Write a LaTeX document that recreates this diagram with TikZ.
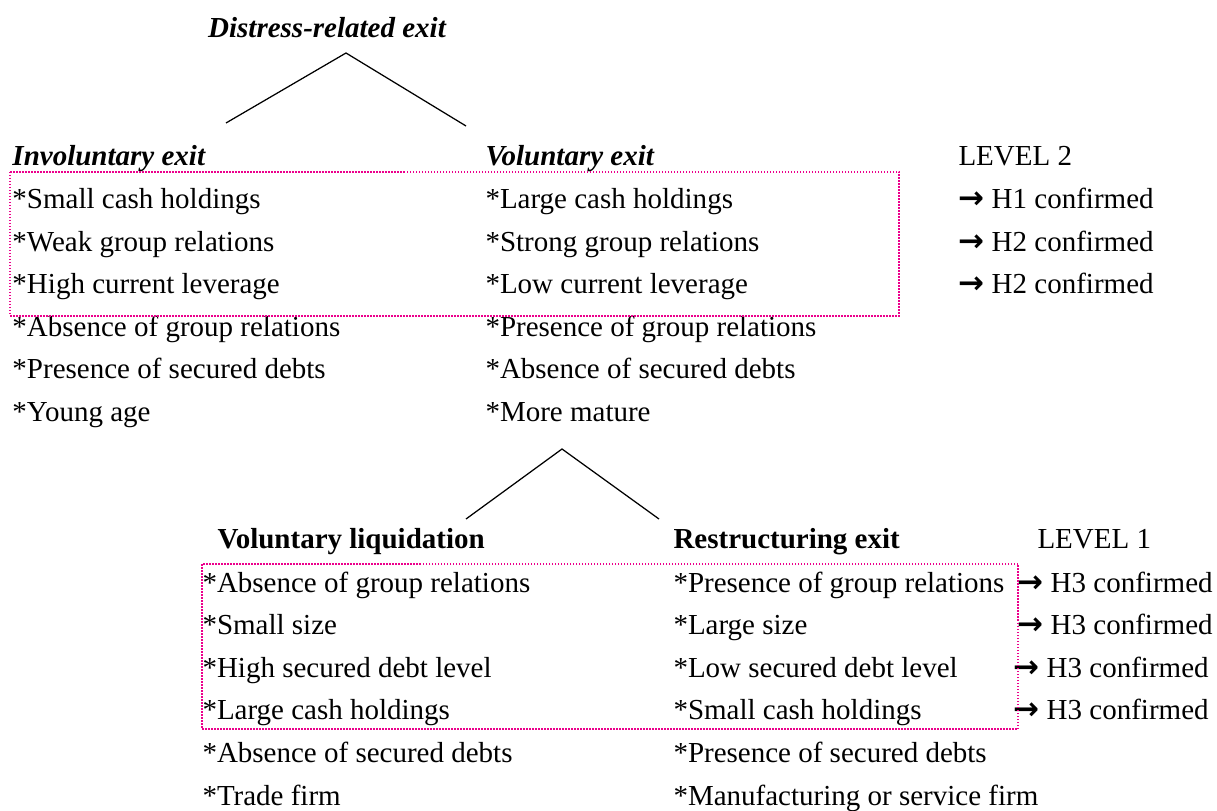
\documentclass[tikz,border=0pt]{standalone}
\usepackage{fontspec}
\setmainfont{Liberation Serif}
\newfontfamily\arrowfont{DejaVu Sans}
\usetikzlibrary{positioning}

\newcommand{\figsize}{\fontsize{11.6}{14}\selectfont}
\newcommand{\hyparrow}{{\arrowfont\bfseries\fontsize{12.4}{14}\selectfont →}}

\begin{document}
\begin{tikzpicture}[
  x=0.4pt, y=-0.4pt,
  font=\figsize,
  every node/.style={inner sep=0pt, anchor=base west},
  grp/.style ={font=\figsize\bfseries\itshape},
  sub/.style ={font=\figsize\bfseries},
  branch/.style={draw=black, line width=0.5pt},
  hbox/.style={draw=magenta, line width=0.5pt, dash pattern=on 0.6pt off 0.6pt},
]
\useasboundingbox (0,0) rectangle (1217,811);

% Top of the tree
\node[grp, anchor=base] (dre) at (327,38) {Distress-related exit};
\coordinate (apexA)  at (346,53);
\coordinate (invTop) at (226,123);
\coordinate (volTop) at (466,126);
\draw[branch] (invTop) -- (apexA) -- (volTop);

% Level 2: involuntary vs voluntary exit
\node[grp] (inv) at (12,166)  {Involuntary exit};
\node[grp] (vol) at (485,166) {Voluntary exit};
\node      (lv2) at (958,166) {LEVEL 2};

\foreach \txt [count=\i] in {Small cash holdings, Weak group relations,
    High current leverage, Absence of group relations,
    Presence of secured debts, Young age}
  \node (inv\i) at (12,{209+42.4*(\i-1)}) {*\txt};
\foreach \txt [count=\i] in {Large cash holdings, Strong group relations,
    Low current leverage, Presence of group relations,
    Absence of secured debts, More mature}
  \node (vol\i) at (485,{209+42.4*(\i-1)}) {*\txt};
\foreach \h [count=\i] in {H1, H2, H2}
  \node (hypA\i) at (958,{209+42.4*(\i-1)}) {\hyparrow\ \h\ confirmed};

\draw[hbox] (10,172) rectangle (899,316);

% Voluntary exit splits again
\coordinate (apexB)  at (562,449);
\coordinate (liqTop) at (466,519);
\coordinate (resTop) at (659,519);
\draw[branch] (liqTop) -- (apexB) -- (resTop);

% Level 1: voluntary liquidation vs restructuring exit
\node[sub] (liq) at (217,548)  {Voluntary liquidation};
\node[sub] (res) at (673,548)  {Restructuring exit};
\node      (lv1) at (1037,548) {LEVEL 1};

\foreach \txt [count=\i] in {Absence of group relations, Small size,
    High secured debt level, Large cash holdings,
    Absence of secured debts, Trade firm}
  \node (liq\i) at (202,{592+42.6*(\i-1)}) {*\txt};
\foreach \txt [count=\i] in {Presence of group relations, Large size,
    Low secured debt level, Small cash holdings,
    Presence of secured debts, Manufacturing or service firm}
  \node (res\i) at (673,{592+42.6*(\i-1)}) {*\txt};
\foreach \xa [count=\i] in {1017,1017,1013,1013}
  \node (hypB\i) at (\xa,{592+42.6*(\i-1)}) {\hyparrow\ H3 confirmed};

\draw[hbox] (202,564) rectangle (1018,729);

\end{tikzpicture}
\end{document}
